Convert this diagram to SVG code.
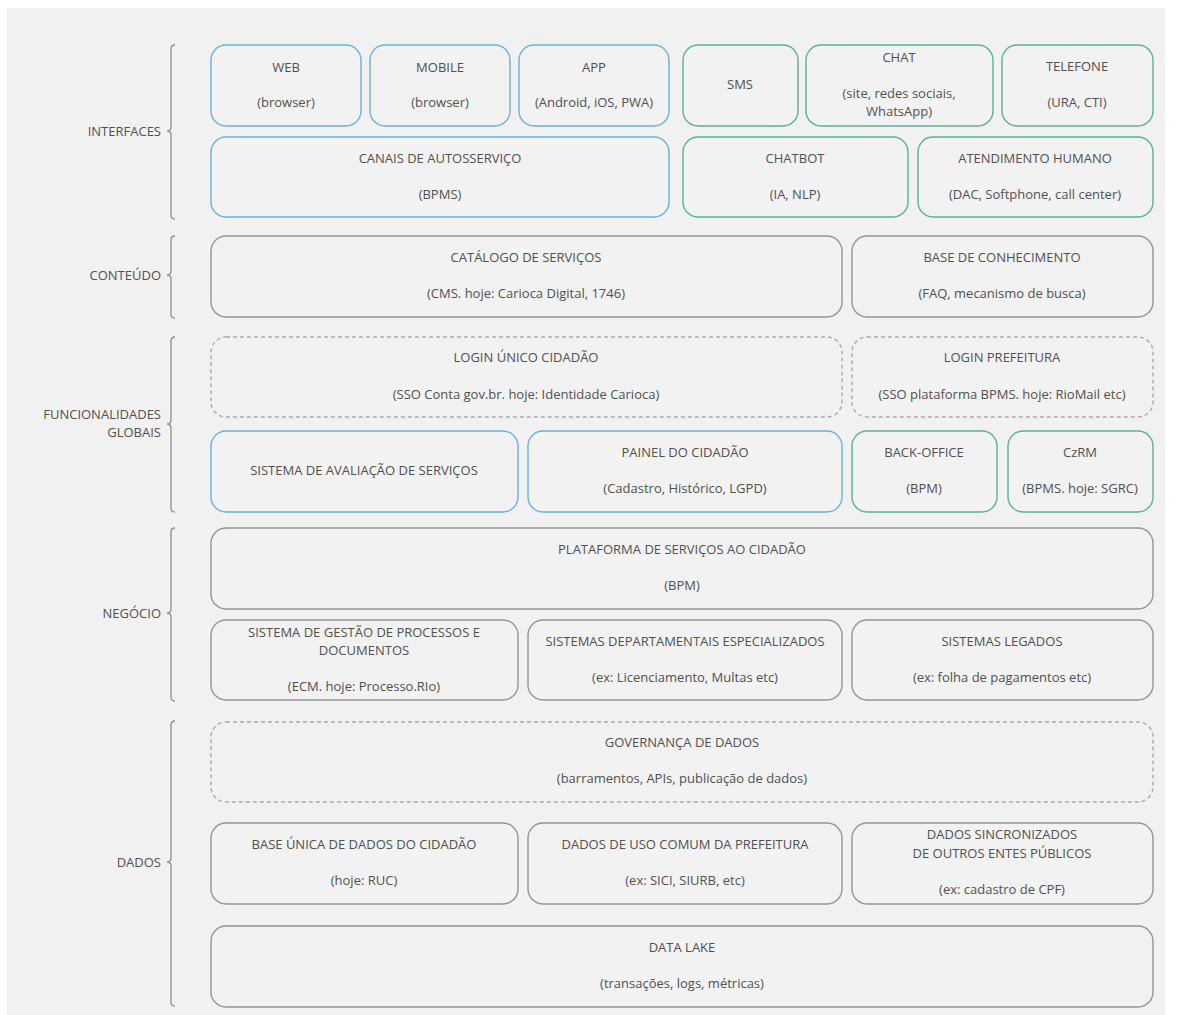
<svg xmlns="http://www.w3.org/2000/svg" width="1178" height="1015" viewBox="0 0 1178 1015">
<style>
.bg{fill:#f1f1f1}
.n rect{fill:#f2f2f2;stroke-width:1.4}
.b rect{stroke:#66b3de}
.g rect{stroke:#56b398}
.k rect{stroke:#949494}
.d rect{stroke:#ababab;stroke-dasharray:4 3}
text{font-family:"Open Sans","Liberation Sans",sans-serif;font-size:13px;fill:#505050;text-anchor:middle;dominant-baseline:central}
.lab{text-anchor:end}
.br{fill:none;stroke:#8f8f8f;stroke-width:1.3}
</style>
<rect x="0" y="0" width="1178" height="1015" fill="#ffffff"/>
<rect class="bg" x="7" y="8" width="1158" height="1007"/>

<g id="braces">
<path class="br" d="M175,45 Q171,45 171,49 L171,127 Q171,131 167,131 Q171,131 171,135 L171,215 Q171,219 175,219"/>
<path class="br" d="M175,236 Q171,236 171,240 L171,271 Q171,275 167,275 Q171,275 171,279 L171,314 Q171,318 175,318"/>
<path class="br" d="M175,337 Q171,337 171,341 L171,420 Q171,424 167,424 Q171,424 171,428 L171,508 Q171,512 175,512"/>
<path class="br" d="M175,528 Q171,528 171,532 L171,609 Q171,613 167,613 Q171,613 171,617 L171,697 Q171,701 175,701"/>
<path class="br" d="M175,721 Q171,721 171,725 L171,858 Q171,862 167,862 Q171,862 171,866 L171,1002 Q171,1006 175,1006"/>
</g>
<g id="labels">
<text class="lab" x="161" y="131">INTERFACES</text>
<text class="lab" x="161" y="275">CONTEÚDO</text>
<text class="lab" x="161" y="414">FUNCIONALIDADES</text>
<text class="lab" x="161" y="432">GLOBAIS</text>
<text class="lab" x="161" y="613">NEGÓCIO</text>
<text class="lab" x="161" y="862">DADOS</text>
</g>

<g id="web" class="n b"><rect x="211" y="45" width="150" height="81" rx="15"/><text x="286" y="67">WEB</text><text x="286" y="102">(browser)</text></g>
<g id="mobile" class="n b"><rect x="370" y="45" width="140" height="81" rx="15"/><text x="440" y="67">MOBILE</text><text x="440" y="102">(browser)</text></g>
<g id="app" class="n b"><rect x="519" y="45" width="150" height="81" rx="15"/><text x="594" y="67">APP</text><text x="594" y="102">(Android, iOS, PWA)</text></g>
<g id="sms" class="n g"><rect x="683" y="45" width="115" height="81" rx="15"/><text x="740" y="84">SMS</text></g>
<g id="chat" class="n g"><rect x="806" y="45" width="187" height="81" rx="15"/><text x="899" y="57">CHAT</text><text x="899" y="93">(site, redes sociais,</text><text x="899" y="111">WhatsApp)</text></g>
<g id="telefone" class="n g"><rect x="1002" y="45" width="151" height="81" rx="15"/><text x="1077" y="66">TELEFONE</text><text x="1077" y="102">(URA, CTI)</text></g>

<g id="canais" class="n b"><rect x="211" y="137" width="458" height="80" rx="15"/><text x="440" y="158">CANAIS DE AUTOSSERVIÇO</text><text x="440" y="194">(BPMS)</text></g>
<g id="chatbot" class="n g"><rect x="683" y="137" width="225" height="80" rx="15"/><text x="795" y="158">CHATBOT</text><text x="795" y="194">(IA, NLP)</text></g>
<g id="atendimento" class="n g"><rect x="918" y="137" width="235" height="80" rx="15"/><text x="1035" y="158">ATENDIMENTO HUMANO</text><text x="1035" y="194">(DAC, Softphone, call center)</text></g>

<g id="catalogo" class="n k"><rect x="211" y="236" width="631" height="81" rx="15"/><text x="526" y="257">CATÁLOGO DE SERVIÇOS</text><text x="526" y="293">(CMS. hoje: Carioca Digital, 1746)</text></g>
<g id="base-conhecimento" class="n k"><rect x="852" y="236" width="301" height="81" rx="15"/><text x="1002" y="257">BASE DE CONHECIMENTO</text><text x="1002" y="293">(FAQ, mecanismo de busca)</text></g>

<g id="login-unico" class="n d"><rect x="211" y="337" width="631" height="80" rx="15"/><text x="526" y="357">LOGIN ÚNICO CIDADÃO</text><text x="526" y="394">(SSO Conta gov.br. hoje: Identidade Carioca)</text></g>
<g id="login-prefeitura" class="n d"><rect x="852" y="337" width="301" height="80" rx="15"/><text x="1002" y="357">LOGIN PREFEITURA</text><text x="1002" y="394">(SSO plataforma BPMS. hoje: RioMail etc)</text></g>

<g id="avaliacao" class="n b"><rect x="211" y="431" width="307" height="81" rx="15"/><text x="364" y="470">SISTEMA DE AVALIAÇÃO DE SERVIÇOS</text></g>
<g id="painel" class="n b"><rect x="528" y="431" width="314" height="81" rx="15"/><text x="685" y="452">PAINEL DO CIDADÃO</text><text x="685" y="488">(Cadastro, Histórico, LGPD)</text></g>
<g id="backoffice" class="n g"><rect x="852" y="431" width="145" height="81" rx="15"/><text x="924" y="452">BACK-OFFICE</text><text x="924" y="488">(BPM)</text></g>
<g id="czrm" class="n g"><rect x="1008" y="431" width="145" height="81" rx="15"/><text x="1080" y="452">CzRM</text><text x="1080" y="488">(BPMS. hoje: SGRC)</text></g>

<g id="plataforma" class="n k"><rect x="211" y="528" width="942" height="81" rx="15"/><text x="682" y="549">PLATAFORMA DE SERVIÇOS AO CIDADÃO</text><text x="682" y="585">(BPM)</text></g>
<g id="gestao" class="n k"><rect x="211" y="620" width="307" height="80" rx="15"/><text x="364" y="632">SISTEMA DE GESTÃO DE PROCESSOS E</text><text x="364" y="650">DOCUMENTOS</text><text x="364" y="686">(ECM. hoje: Processo.RIo)</text></g>
<g id="departamentais" class="n k"><rect x="528" y="620" width="314" height="80" rx="15"/><text x="685" y="641">SISTEMAS DEPARTAMENTAIS ESPECIALIZADOS</text><text x="685" y="677">(ex: Licenciamento, Multas etc)</text></g>
<g id="legados" class="n k"><rect x="852" y="620" width="301" height="80" rx="15"/><text x="1002" y="641">SISTEMAS LEGADOS</text><text x="1002" y="677">(ex: folha de pagamentos etc)</text></g>

<g id="governanca" class="n d"><rect x="211" y="722" width="942" height="80" rx="15"/><text x="682" y="742">GOVERNANÇA DE DADOS</text><text x="682" y="778">(barramentos, APIs, publicação de dados)</text></g>
<g id="base-unica" class="n k"><rect x="211" y="823" width="307" height="81" rx="15"/><text x="364" y="844">BASE ÚNICA DE DADOS DO CIDADÃO</text><text x="364" y="880">(hoje: RUC)</text></g>
<g id="uso-comum" class="n k"><rect x="528" y="823" width="314" height="81" rx="15"/><text x="685" y="844">DADOS DE USO COMUM DA PREFEITURA</text><text x="685" y="880">(ex: SICI, SIURB, etc)</text></g>
<g id="sincronizados" class="n k"><rect x="852" y="823" width="301" height="81" rx="15"/><text x="1002" y="834">DADOS SINCRONIZADOS</text><text x="1002" y="853">DE OUTROS ENTES PÚBLICOS</text><text x="1002" y="889">(ex: cadastro de CPF)</text></g>
<g id="datalake" class="n k"><rect x="211" y="926" width="942" height="81" rx="15"/><text x="682" y="947">DATA LAKE</text><text x="682" y="983">(transações, logs, métricas)</text></g>
<g id="connectors"></g>
</svg>
